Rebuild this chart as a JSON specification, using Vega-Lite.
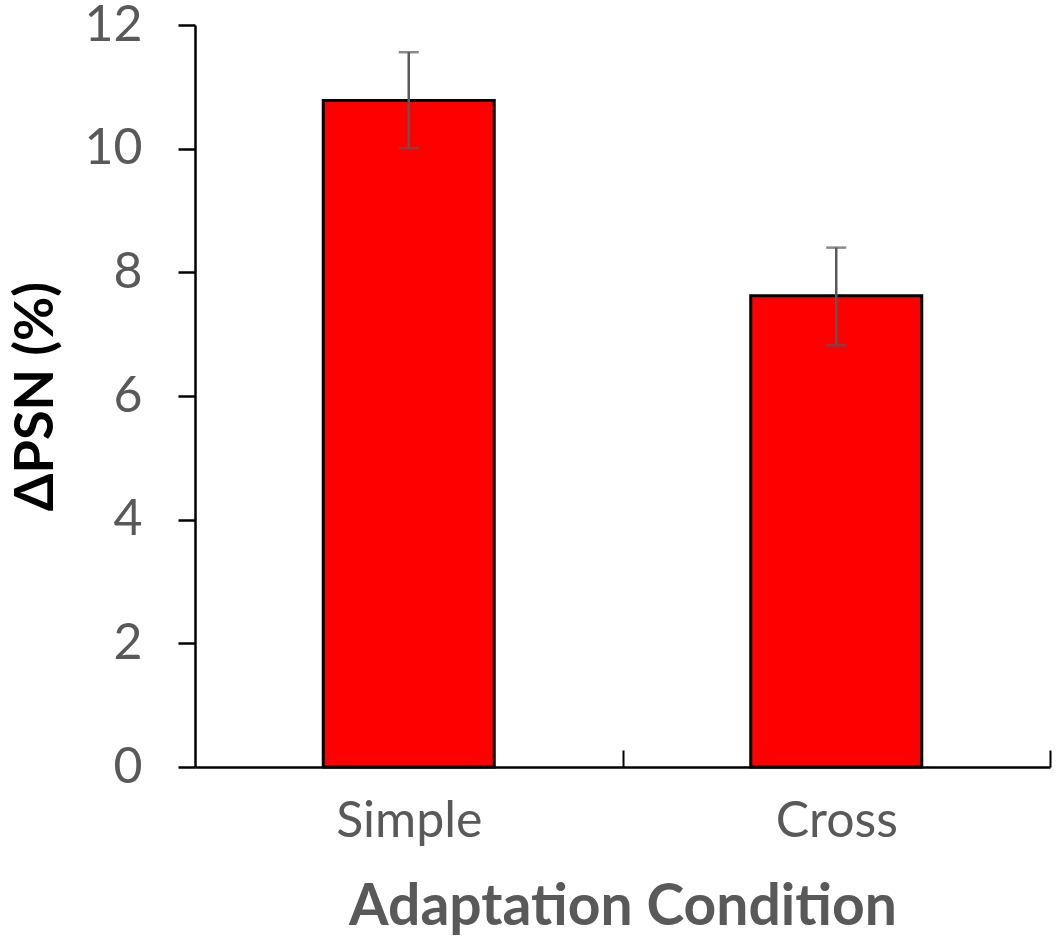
{
  "$schema": "https://vega.github.io/schema/vega-lite/v6.json",
  "autosize": "none",
  "width": 855,
  "height": 742,
  "padding": {"left": 195, "top": 25, "right": 10, "bottom": 173},
  "background": "white",
  "config": {
    "view": {"stroke": null},
    "font": "Lato"
  },
  "data": {
    "values": [
      {"condition": "Simple", "psn": 10.78, "lo": 10.01, "hi": 11.56},
      {"condition": "Cross", "psn": 7.62, "lo": 6.82, "hi": 8.4}
    ]
  },
  "encoding": {
    "x": {
      "field": "condition",
      "type": "nominal",
      "sort": ["Simple", "Cross"],
      "scale": {"paddingInner": 0, "paddingOuter": 0},
      "axis": {
        "title": "Adaptation Condition",
        "titleFont": "Lato",
        "titleFontSize": 57,
        "titleFontWeight": "bold",
        "titleColor": "#595959",
        "titlePadding": 33,
        "labelAngle": 0,
        "labelFontSize": 50,
        "labelColor": "#595959",
        "labelPadding": 46,
        "tickOffset": 213.75,
        "labelOffset": -213.75,
        "tickSize": -17,
        "tickColor": "black",
        "tickWidth": 2,
        "domainColor": "black",
        "domainWidth": 2.5
      }
    }
  },
  "layer": [
    {
      "mark": {"type": "bar", "width": {"band": 0.4}, "fill": "#ff0000", "stroke": "black", "strokeWidth": 3},
      "encoding": {
        "y": {
          "field": "psn",
          "type": "quantitative",
          "scale": {"domain": [0, 12]},
          "axis": {
            "title": "ΔPSN (%)",
            "titleFontSize": 54,
            "titleFontWeight": "bold",
            "titleColor": "black",
            "titlePadding": 20,
            "values": [0, 2, 4, 6, 8, 10, 12],
            "format": "d",
            "grid": false,
            "labelFontSize": 50,
            "labelColor": "#595959",
            "labelPadding": 36,
            "tickSize": 17,
            "tickColor": "black",
            "tickWidth": 2.5,
            "domainColor": "black",
            "domainWidth": 2.5
          }
        }
      }
    },
    {
      "mark": {"type": "rule", "color": "#595959", "strokeWidth": 2.5},
      "encoding": {
        "y": {"field": "lo", "type": "quantitative"},
        "y2": {"field": "hi"}
      }
    },
    {
      "mark": {"type": "tick", "color": "#595959", "thickness": 2.5, "size": 20},
      "encoding": {"y": {"field": "lo", "type": "quantitative"}}
    },
    {
      "mark": {"type": "tick", "color": "#595959", "thickness": 2.5, "size": 20},
      "encoding": {"y": {"field": "hi", "type": "quantitative"}}
    }
  ]
}
